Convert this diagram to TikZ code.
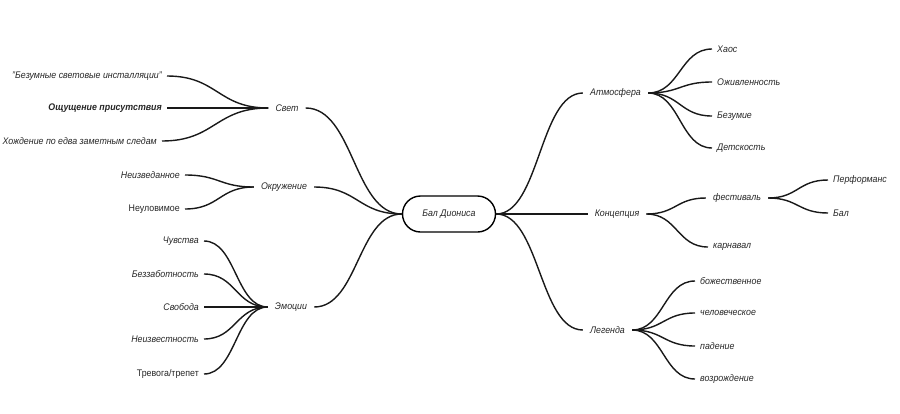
\documentclass[tikz,border=0pt]{standalone}
\usepackage{fontspec}
\setmainfont[FakeStretch=0.92]{Liberation Sans}
\usetikzlibrary{calc}
\begin{document}
\begin{tikzpicture}[x=1pt,y=-1pt]
\tikzset{
 lbl/.style={font=\fontsize{9.6}{11}\selectfont\itshape, text=black!85, inner xsep=5pt, inner ysep=2pt},
 lblup/.style={lbl, font=\fontsize{9.6}{11}\selectfont\upshape},
 lblbold/.style={lbl, font=\fontsize{9.6}{11}\selectfont\bfseries\itshape},
 midlbl/.style={lbl, inner xsep=7pt},
 centerbox/.style={lbl, draw=black, line width=1.4pt, rounded corners=18pt, minimum width=93pt, minimum height=36pt},
 branch/.style={line width=1.4pt, black!90, to path={let \p1=(\tikztostart), \p2=(\tikztotarget) in .. controls ({(\x1+\x2)/2},\y1) and ({(\x1+\x2)/2},\y2) .. (\tikztotarget)}},
}
\path[use as bounding box] (0,0) rectangle (900,413);

% centre
\node[centerbox] (c) at (449,214) {Бал Диониса};

% left main
\node[midlbl] (svet) at (287,108) {Свет};
\node[midlbl] (okr) at (284,187) {Окружение};
\node[midlbl] (emo) at (291,307) {Эмоции};

% right main
\node[midlbl] (atm) at (615.5,93) {Атмосфера};
\node[midlbl] (konc) at (617,214) {Концепция};
\node[midlbl] (leg) at (607.5,330) {Легенда};
\node[midlbl] (fest) at (737,198) {фестиваль};

% left children
\node[lbl, anchor=east] (s1) at (167,76) {"Безумные световые инсталляции"};
\node[lblbold, anchor=east] (s2) at (167,108) {Ощущение присутствия};
\node[lbl, anchor=east] (s3) at (162,141) {Хождение по едва заметным следам};
\node[lbl, anchor=east] (o1) at (185,175) {Неизведанное};
\node[lblup, anchor=east] (o2) at (185,209) {Неуловимое};
\node[lbl, anchor=east] (e1) at (204,241) {Чувства};
\node[lbl, anchor=east] (e2) at (204,274) {Беззаботность};
\node[lbl, anchor=east] (e3) at (204,307) {Свобода};
\node[lbl, anchor=east] (e4) at (204,339) {Неизвестность};
\node[lblup, anchor=east] (e5) at (204,374) {Тревога/трепет};

% right children
\node[lbl, anchor=west] (a1) at (712,49) {Хаос};
\node[lbl, anchor=west] (a2) at (712,82) {Оживленность};
\node[lbl, anchor=west] (a3) at (712,116) {Безумие};
\node[lbl, anchor=west] (a4) at (712,148) {Детскость};
\node[lbl, anchor=west] (k2) at (708,247) {карнавал};
\node[lbl, anchor=west] (f1) at (828,180) {Перформанс};
\node[lbl, anchor=west] (f2) at (828,213) {Бал};
\node[lbl, anchor=west] (l1) at (695,281) {божественное};
\node[lbl, anchor=west] (l2) at (695,313) {человеческое};
\node[lbl, anchor=west] (l3) at (695,346) {падение};
\node[lbl, anchor=west] (l4) at (695,379) {возрождение};

% connectors centre
\draw[branch] (svet.east) to (c.west);
\draw[branch] (okr.east) to (c.west);
\draw[branch] (emo.east) to (c.west);
\draw[branch] (c.east) to (atm.west);
\draw[branch] (c.east) to (konc.west);
\draw[branch] (c.east) to (leg.west);

% left children
\foreach \k in {s1,s2,s3} \draw[branch] (\k.east) to (svet.west);
\foreach \k in {o1,o2} \draw[branch] (\k.east) to (okr.west);
\foreach \k in {e1,e2,e3,e4,e5} \draw[branch] (\k.east) to (emo.west);

% right children
\foreach \k in {a1,a2,a3,a4} \draw[branch] (atm.east) to (\k.west);
\draw[branch] (konc.east) to (fest.west);
\draw[branch] (konc.east) to (k2.west);
\foreach \k in {f1,f2} \draw[branch] (fest.east) to (\k.west);
\foreach \k in {l1,l2,l3,l4} \draw[branch] (leg.east) to (\k.west);
\end{tikzpicture}
\end{document}
